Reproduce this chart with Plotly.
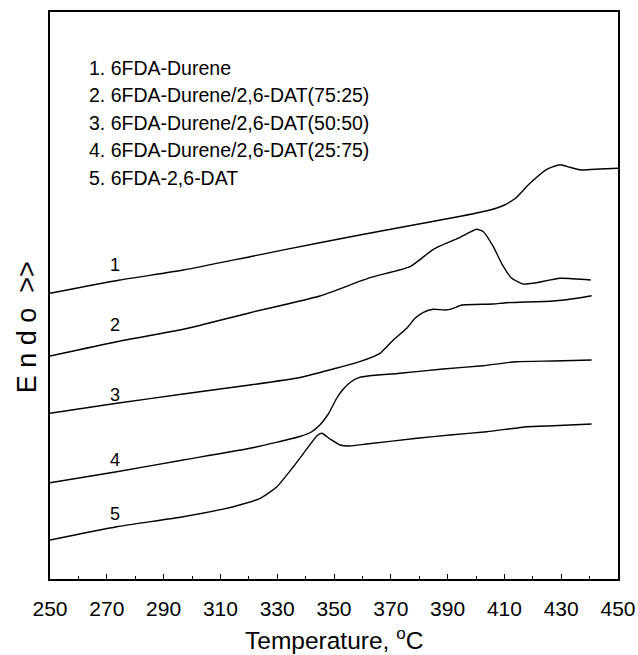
import plotly.graph_objects as go

# ---- data (y in arbitrary units) ----
t1 = [250, 274.6, 297, 320.4, 345, 368.5, 395.5, 405, 410, 414, 419, 424.9, 429.6, 433.1, 437.2, 443.7, 450]
y1 = [285.7, 299, 309, 322.3, 336.3, 349, 363.3, 369, 374, 381, 395.7, 409.7, 414.3, 411.7, 409, 410, 410.7]

t2 = [250, 273.5, 296.9, 320.4, 345, 362.7, 376.8, 385, 394.4, 400.2, 402.6, 406.1, 409, 412.6, 416.7, 420.2, 429.6, 440.4]
y2 = [223, 237.3, 249.7, 266.3, 283, 301.3, 312.3, 329.7, 341.7, 349.7, 347.3, 332.3, 315.7, 300.7, 295, 295.7, 300.7, 299]

t3 = [250, 273.5, 296.9, 320.4, 338, 352, 359, 366.2, 370.9, 375.6, 378.5, 381.5, 385, 389.1, 392, 395, 406.1, 410.8, 427.2, 435.5, 440.7]
y3 = [165.7, 175.7, 185, 194, 201.5, 211.7, 217.3, 225.7, 239, 250.7, 260.7, 266.7, 269.7, 269, 270.7, 274, 275, 276.3, 278, 280.7, 283.3]

t4 = [250, 273.5, 296.9, 320.4, 338, 342, 345, 348, 351, 353, 356, 359, 362.7, 373.2, 388.4, 402.5, 414.3, 427.2, 440.7]
y4 = [96.3, 107.3, 119, 130.7, 142.5, 147, 154, 165, 181, 189, 197.3, 201.7, 203.3, 205.7, 210, 213.3, 217.3, 218, 219]

t5 = [250, 273.5, 296.9, 314.5, 324, 329.9, 335.7, 340.5, 344, 345.7, 348.6, 352.1, 355.6, 361.5, 379.2, 390.8, 403.8, 417.9, 427.2, 440.7]
y5 = [39, 52.3, 62.3, 72.3, 80.7, 92.3, 112.3, 130.3, 143.3, 145.7, 140, 134, 133, 135, 140.7, 144, 147.3, 152.3, 153.3, 155]

legend_lines = [
    "1. 6FDA-Durene",
    "2. 6FDA-Durene/2,6-DAT(75:25)",
    "3. 6FDA-Durene/2,6-DAT(50:50)",
    "4. 6FDA-Durene/2,6-DAT(25:75)",
    "5. 6FDA-2,6-DAT",
]
legend_y = [511.5, 484, 456.5, 429, 401.5]

curve_labels = ["1", "2", "3", "4", "5"]
curve_label_x = [272.9, 272.9, 272.9, 272.9, 272.9]
curve_label_y = [314, 254, 184, 119, 65]

x_ticks = list(range(250, 451, 20))

FONT = "Liberation Sans, Arial, sans-serif"

fig = go.Figure()
for t, y in [(t1, y1), (t2, y2), (t3, y3), (t4, y4), (t5, y5)]:
    fig.add_trace(go.Scatter(x=t, y=y, mode="lines",
                             line=dict(color="black", width=1.4, shape="spline", smoothing=0.5),
                             showlegend=False, hoverinfo="skip"))

for txt, yy in zip(legend_lines, legend_y):
    fig.add_annotation(x=262.9, y=yy, xref="x", yref="y", text=txt, showarrow=False,
                       xanchor="left", yanchor="middle", font=dict(family=FONT, size=19.5, color="black"))

for txt, xx, yy in zip(curve_labels, curve_label_x, curve_label_y):
    fig.add_annotation(x=xx, y=yy, xref="x", yref="y", text=txt, showarrow=False,
                       xanchor="center", yanchor="middle", font=dict(family=FONT, size=18, color="black"))

# axis titles
fig.add_annotation(x=0.5, y=-0.105, xref="paper", yref="paper",
                   text="Temperature, <sup>o</sup>C", showarrow=False,
                   xanchor="center", yanchor="middle", font=dict(family=FONT, size=24.5, color="black"))
fig.add_annotation(x=-0.0405, y=0.444, xref="paper", yref="paper",
                   text="E n d o &nbsp;>>", showarrow=False, textangle=-90,
                   xanchor="center", yanchor="middle", font=dict(family=FONT, size=27, color="black"))

fig.update_xaxes(range=[250, 450], tickvals=x_ticks, ticktext=[str(v) for v in x_ticks],
                 ticks="inside", ticklen=5, tickwidth=1.2, tickcolor="black",
                 minor=dict(ticks="inside", ticklen=3, tickwidth=1, tickcolor="black", dtick=10, tick0=250),
                 showline=True, linecolor="black", linewidth=2, mirror=True,
                 showgrid=False, zeroline=False, ticklabelstandoff=10, automargin=False,
                 tickfont=dict(family=FONT, size=21, color="black"))
fig.update_yaxes(range=[0, 567], showticklabels=False, ticks="",
                 showline=True, linecolor="black", linewidth=2, mirror=True,
                 showgrid=False, zeroline=False, automargin=False)

fig.update_layout(width=638, height=655, margin=dict(l=50, r=20, t=12, b=76, autoexpand=False),
                  plot_bgcolor="white", paper_bgcolor="white")

fig.write_html("out.html")
